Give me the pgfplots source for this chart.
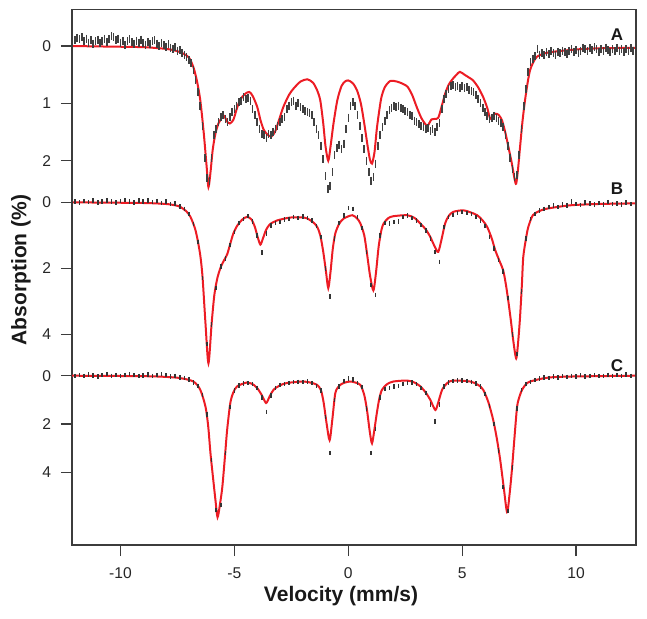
\documentclass[border=0pt]{standalone}
\usepackage{pgfplots}
\pgfplotsset{compat=1.18}
\usepackage{fontspec}
\setmainfont{Liberation Sans}
\definecolor{fitred}{RGB}{236,28,36}
\definecolor{axgray}{RGB}{60,60,60}
\pgfplotsset{
 panel/.style={
  at={(0,0)}, anchor=south west, scale only axis, width=282pt, height=267.85pt,
  xmin=-12.13, xmax=12.63, y dir=reverse,
  tick align=outside, major tick length=5.5pt,
  xtick pos=bottom, ytick pos=left,
  tick style={axgray, line width=0.7pt},
  /pgf/number format/assume math mode=true,
  tick label style={font=\fontsize{7.8}{9}\selectfont, text=black!85},
  yticklabel style={xshift=-1.5pt},
  xticklabel style={yshift=-2.5pt},
 },
 hiddenpanel/.style={panel, axis line style={draw=none}, xtick=\empty},
 datA/.style={only marks, mark=|, mark size=2pt, black!75, mark options={line width=0.8pt}},
 datBC/.style={only marks, mark=|, mark size=1.1pt, black!80, mark options={line width=0.8pt}},
 fit/.style={no marks, fitred, line width=1pt, smooth, tension=0.45},
}
\begin{document}
\begin{tikzpicture}
\useasboundingbox (-36pt,-36.5pt) rectangle (287.5pt,272.5pt);
% ---------------- Panel A ----------------
\begin{axis}[hiddenpanel, ymin=-0.64, ymax=8.70, ytick={0,1,2}]
\addplot[datA] coordinates {
(-12.0,-0.10) (-11.9,-0.14) (-11.8,-0.12) (-11.7,-0.15) (-11.6,-0.09) (-11.5,-0.13) (-11.4,-0.06) (-11.3,-0.10) (-11.2,-0.04) (-11.1,-0.08)
(-11.0,-0.11) (-10.9,-0.05) (-10.8,-0.09) (-10.7,-0.13) (-10.6,-0.07) (-10.5,-0.12) (-10.4,-0.17) (-10.3,-0.15) (-10.2,-0.10) (-10.1,-0.13)
(-10.0,-0.06) (-9.9,-0.09) (-9.8,-0.02) (-9.7,-0.08) (-9.6,-0.12) (-9.5,-0.07) (-9.4,-0.04) (-9.3,-0.09) (-9.2,-0.06) (-9.1,-0.11)
(-9.0,-0.05) (-8.9,-0.02) (-8.8,-0.07) (-8.7,-0.03) (-8.6,-0.08) (-8.5,-0.10) (-8.4,-0.04) (-8.3,0.00) (-8.2,-0.05) (-8.1,-0.01)
(-8.0,0.02) (-7.9,-0.03) (-7.8,0.03) (-7.7,0.06) (-7.6,0.02) (-7.5,0.08) (-7.4,0.07) (-7.3,0.12) (-7.2,0.15) (-7.1,0.19)
(-7.0,0.25) (-6.9,0.30) (-6.8,0.42) (-6.7,0.59) (-6.6,0.80) (-6.5,1.05) (-6.4,1.40) (-6.3,1.95) (-6.2,2.30) (-6.1,2.36)
(-6.0,1.95) (-5.9,1.55) (-5.8,1.44) (-5.7,1.33) (-5.6,1.24) (-5.5,1.21) (-5.4,1.27) (-5.3,1.33) (-5.2,1.24) (-5.1,1.15)
(-5.0,1.10) (-4.9,1.04) (-4.8,0.98) (-4.7,0.95) (-4.6,0.89) (-4.5,0.92) (-4.4,0.90) (-4.3,0.95) (-4.2,1.10) (-4.1,1.21)
(-4.0,1.33) (-3.9,1.44) (-3.8,1.53) (-3.7,1.56) (-3.6,1.60) (-3.5,1.53) (-3.4,1.56) (-3.3,1.50) (-3.2,1.44) (-3.1,1.39)
(-3.0,1.33) (-2.9,1.27) (-2.8,1.24) (-2.7,1.10) (-2.6,1.04) (-2.5,0.98) (-2.4,0.95) (-2.3,1.04) (-2.2,1.00) (-2.1,1.07)
(-2.0,1.10) (-1.9,1.13) (-1.8,1.15) (-1.7,1.16) (-1.6,1.21) (-1.5,1.33) (-1.4,1.44) (-1.3,1.56) (-1.2,1.74) (-1.1,1.97)
(-1.0,2.27) (-0.9,2.50) (-0.8,2.44) (-0.7,2.20) (-0.6,1.90) (-0.5,1.78) (-0.4,1.72) (-0.3,1.80) (-0.2,1.70) (-0.1,1.45)
(0.0,1.25) (0.1,1.05) (0.2,0.98) (0.3,1.05) (0.4,1.20) (0.5,1.40) (0.6,1.60) (0.7,1.80) (0.8,2.00) (0.9,2.20)
(1.0,2.35) (1.1,2.28) (1.2,2.05) (1.3,1.75) (1.4,1.55) (1.5,1.42) (1.6,1.30) (1.7,1.20) (1.8,1.12) (1.9,1.08)
(2.0,1.05) (2.1,1.07) (2.2,1.04) (2.3,1.08) (2.4,1.10) (2.5,1.13) (2.6,1.15) (2.7,1.20) (2.8,1.22) (2.9,1.30)
(3.0,1.33) (3.1,1.36) (3.2,1.40) (3.3,1.42) (3.4,1.45) (3.5,1.43) (3.6,1.48) (3.7,1.45) (3.8,1.50) (3.9,1.42)
(4.0,1.35) (4.1,1.10) (4.2,0.92) (4.3,0.83) (4.4,0.75) (4.5,0.70) (4.6,0.68) (4.7,0.72) (4.8,0.69) (4.9,0.73)
(5.0,0.70) (5.1,0.74) (5.2,0.72) (5.3,0.76) (5.4,0.78) (5.5,0.80) (5.6,0.85) (5.7,0.92) (5.8,1.00) (5.9,1.08)
(6.0,1.15) (6.1,1.22) (6.2,1.28) (6.3,1.25) (6.4,1.22) (6.5,1.25) (6.6,1.30) (6.7,1.35) (6.8,1.42) (6.9,1.55)
(7.0,1.75) (7.1,1.95) (7.2,2.15) (7.3,2.28) (7.4,2.25) (7.5,1.90) (7.6,1.45) (7.7,1.05) (7.8,0.75) (7.9,0.45)
(8.0,0.28) (8.1,0.22) (8.2,0.17) (8.3,0.05) (8.4,0.15) (8.5,0.13) (8.6,0.16) (8.7,0.11) (8.8,0.14) (8.9,0.09)
(9.0,0.12) (9.1,0.15) (9.2,0.10) (9.3,0.13) (9.4,0.08) (9.5,0.11) (9.6,0.14) (9.7,0.09) (9.8,0.06) (9.9,0.10)
(10.0,0.07) (10.1,0.12) (10.2,0.08) (10.3,0.03) (10.4,0.06) (10.5,0.09) (10.6,0.04) (10.7,0.07) (10.8,0.02) (10.9,0.06)
(11.0,0.10) (11.1,0.05) (11.2,0.08) (11.3,0.03) (11.4,0.07) (11.5,0.11) (11.6,0.06) (11.7,0.09) (11.8,0.04) (11.9,0.08)
(12.0,0.05) (12.1,0.10) (12.2,0.06) (12.3,0.09) (12.4,0.04) (12.5,0.08) (12.6,0.12)
};
\addplot[fit] coordinates {
(-12.13,0.00) (-10.5,0.01) (-9.0,0.02) (-8.0,0.05) (-7.6,0.08) (-7.3,0.12) (-7.0,0.20) (-6.8,0.37) (-6.65,0.60) (-6.5,0.94)
(-6.35,1.50) (-6.22,2.10) (-6.14,2.46) (-6.05,2.20) (-5.95,1.80) (-5.83,1.52) (-5.7,1.35) (-5.55,1.25) (-5.45,1.22) (-5.3,1.33)
(-5.2,1.35) (-5.05,1.29) (-4.9,1.10) (-4.75,0.94) (-4.55,0.84) (-4.35,0.80) (-4.2,0.87) (-4.0,1.06) (-3.85,1.30) (-3.7,1.47)
(-3.5,1.56) (-3.35,1.57) (-3.2,1.48) (-3.05,1.30) (-2.85,1.06) (-2.6,0.85) (-2.4,0.74) (-2.1,0.62) (-1.8,0.58) (-1.55,0.64)
(-1.37,0.77) (-1.23,0.95) (-1.1,1.35) (-1.0,1.75) (-0.88,2.00) (-0.78,1.75) (-0.65,1.35) (-0.48,0.94) (-0.3,0.70) (-0.15,0.62)
(0.0,0.60) (0.2,0.65) (0.38,0.77) (0.55,1.00) (0.7,1.35) (0.85,1.75) (0.95,1.98) (1.04,2.05) (1.15,1.85) (1.25,1.45)
(1.35,1.15) (1.45,0.90) (1.6,0.72) (1.84,0.61) (2.14,0.62) (2.4,0.66) (2.6,0.71) (2.8,0.85) (3.0,1.06) (3.2,1.25)
(3.4,1.37) (3.5,1.38) (3.65,1.28) (3.8,1.27) (3.95,1.25) (4.1,1.05) (4.26,0.82) (4.4,0.68) (4.55,0.59) (4.75,0.50)
(4.9,0.45) (5.1,0.50) (5.3,0.55) (5.48,0.60) (5.7,0.72) (5.92,0.89) (6.1,1.08) (6.23,1.27) (6.35,1.22) (6.45,1.18)
(6.6,1.20) (6.75,1.30) (6.9,1.52) (7.05,1.80) (7.18,2.05) (7.3,2.32) (7.37,2.40) (7.45,2.15) (7.54,1.76) (7.65,1.30)
(7.76,0.94) (7.88,0.62) (7.98,0.42) (8.1,0.30) (8.27,0.19) (8.6,0.13) (9.0,0.10) (10.0,0.06) (11.0,0.04) (12.63,0.03)
};
\end{axis}
% ---------------- Panel B ----------------
\begin{axis}[hiddenpanel, ymin=-5.85, ymax=10.385, ytick={0,2,4}]
\addplot[datBC] coordinates {
(-12.0,-0.02) (-11.8,0.01) (-11.6,-0.04) (-11.4,-0.01) (-11.2,-0.05) (-11.0,0.00) (-10.8,-0.03) (-10.6,-0.06) (-10.4,-0.02) (-10.2,0.01)
(-10.0,-0.04) (-9.8,-0.07) (-9.6,-0.03) (-9.4,0.00) (-9.2,-0.05) (-9.0,-0.02) (-8.8,-0.06) (-8.6,-0.01) (-8.4,-0.04) (-8.2,0.02)
(-8.0,-0.02) (-7.8,0.05) (-7.6,0.04) (-7.4,0.12) (-7.2,0.20) (-7.0,0.36) (-6.8,0.65) (-6.6,1.20) (-6.4,2.30) (-6.2,4.30)
(-6.0,3.70) (-5.8,2.60) (-5.6,1.95) (-5.4,1.70) (-5.2,1.30) (-5.0,0.90) (-4.8,0.62) (-4.6,0.50) (-4.4,0.42) (-4.2,0.58)
(-4.0,1.00) (-3.8,1.52) (-3.6,0.95) (-3.4,0.70) (-3.2,0.62) (-3.0,0.60) (-2.8,0.52) (-2.6,0.50) (-2.4,0.44) (-2.2,0.47)
(-2.0,0.43) (-1.8,0.47) (-1.6,0.55) (-1.4,0.72) (-1.2,1.05) (-1.0,2.00) (-0.8,2.85) (-0.6,1.10) (-0.4,0.62) (-0.2,0.40)
(0.0,0.18) (0.2,0.20) (0.4,0.45) (0.6,0.78) (0.8,1.50) (1.0,2.50) (1.2,2.80) (1.4,1.00) (1.6,0.62) (1.8,0.64)
(2.0,0.60) (2.2,0.58) (2.4,0.45) (2.6,0.40) (2.8,0.48) (3.0,0.55) (3.2,0.68) (3.4,0.85) (3.6,1.10) (3.8,1.50)
(4.0,1.80) (4.2,0.75) (4.4,0.45) (4.6,0.38) (4.8,0.33) (5.0,0.30) (5.2,0.32) (5.4,0.35) (5.6,0.45) (5.8,0.55)
(6.0,0.72) (6.2,1.05) (6.4,1.40) (6.6,1.75) (6.8,2.10) (7.0,2.90) (7.2,4.00) (7.4,4.60) (7.6,2.70) (7.8,1.10)
(8.0,0.50) (8.2,0.35) (8.4,0.25) (8.6,0.20) (8.8,0.15) (9.0,0.10) (9.2,0.14) (9.4,0.06) (9.6,0.09) (9.8,-0.02)
(10.0,0.05) (10.2,0.08) (10.4,0.00) (10.6,0.04) (10.8,0.07) (11.0,0.02) (11.2,0.06) (11.4,-0.01) (11.6,0.05) (11.8,0.03)
(12.0,0.07) (12.2,0.01) (12.4,0.05) (12.6,0.02)
};
\addplot[fit] coordinates {
(-12.13,0.00) (-9.0,0.02) (-8.0,0.05) (-7.6,0.09) (-7.37,0.14) (-7.1,0.28) (-6.93,0.44) (-6.75,0.75) (-6.64,1.05) (-6.5,1.60)
(-6.4,2.26) (-6.27,3.67) (-6.14,4.88) (-6.0,3.67) (-5.88,2.80) (-5.75,2.30) (-5.6,1.96) (-5.45,1.75) (-5.32,1.58) (-5.2,1.30)
(-5.05,0.95) (-4.87,0.70) (-4.65,0.52) (-4.44,0.44) (-4.25,0.52) (-4.1,0.75) (-3.98,1.05) (-3.86,1.28) (-3.75,1.10) (-3.62,0.85)
(-3.45,0.67) (-3.13,0.55) (-2.54,0.46) (-2.0,0.46) (-1.8,0.49) (-1.55,0.60) (-1.37,0.74) (-1.23,1.00) (-1.1,1.50) (-0.98,2.10)
(-0.88,2.60) (-0.78,2.10) (-0.68,1.40) (-0.57,0.94) (-0.4,0.65) (-0.2,0.49) (0.18,0.39) (0.4,0.50) (0.53,0.64) (0.7,1.00)
(0.82,1.55) (0.95,2.20) (1.1,2.67) (1.22,2.10) (1.33,1.35) (1.45,0.85) (1.55,0.64) (1.75,0.48) (1.98,0.42) (2.58,0.39)
(2.9,0.47) (3.16,0.64) (3.4,0.82) (3.6,1.05) (3.8,1.35) (3.95,1.50) (4.1,1.10) (4.25,0.64) (4.4,0.42) (4.6,0.29)
(5.04,0.24) (5.35,0.30) (5.66,0.39) (5.9,0.55) (6.1,0.75) (6.3,1.10) (6.45,1.45) (6.65,1.80) (6.8,2.06) (6.92,2.50)
(7.02,2.97) (7.14,3.60) (7.24,4.18) (7.37,4.73) (7.46,4.20) (7.54,3.47) (7.62,2.50) (7.68,1.66) (7.8,1.10) (7.9,0.75)
(8.1,0.39) (8.4,0.26) (8.73,0.19) (9.74,0.09) (11.0,0.05) (12.63,0.03)
};
\end{axis}
% ---------------- Panel C (frame, x axis) ----------------
\begin{axis}[panel, ymin=-15.17, ymax=7.01, ytick={0,2,4}, xtick={-10,-5,0,5,10},
  axis line style={axgray, line width=0.7pt}]
\addplot[datBC] coordinates {
(-12.0,0.00) (-11.8,-0.03) (-11.6,0.02) (-11.4,-0.05) (-11.2,-0.01) (-11.0,0.03) (-10.8,-0.02) (-10.6,-0.06) (-10.4,0.01) (-10.2,-0.03)
(-10.0,0.02) (-9.8,-0.04) (-9.6,-0.07) (-9.4,-0.02) (-9.2,0.02) (-9.0,-0.01) (-8.8,-0.05) (-8.6,0.01) (-8.4,-0.03) (-8.2,-0.06)
(-8.0,-0.02) (-7.8,0.03) (-7.6,0.01) (-7.4,0.08) (-7.2,0.10) (-7.0,0.15) (-6.8,0.28) (-6.6,0.42) (-6.4,0.80) (-6.2,1.60)
(-6.0,3.50) (-5.8,5.55) (-5.6,5.35) (-5.4,3.20) (-5.2,1.30) (-5.0,0.62) (-4.8,0.40) (-4.6,0.32) (-4.4,0.30) (-4.2,0.35)
(-4.0,0.50) (-3.8,0.90) (-3.6,1.50) (-3.4,0.82) (-3.2,0.50) (-3.0,0.38) (-2.8,0.35) (-2.6,0.30) (-2.4,0.27) (-2.2,0.25)
(-2.0,0.27) (-1.8,0.24) (-1.6,0.30) (-1.4,0.42) (-1.2,0.62) (-1.0,1.70) (-0.8,3.20) (-0.6,1.00) (-0.4,0.45) (-0.2,0.22)
(0.0,0.12) (0.2,0.15) (0.4,0.30) (0.6,0.48) (0.8,1.35) (1.0,3.20) (1.2,2.20) (1.4,0.90) (1.6,0.55) (1.8,0.52)
(2.0,0.45) (2.2,0.42) (2.4,0.35) (2.6,0.30) (2.8,0.28) (3.0,0.35) (3.2,0.50) (3.4,0.72) (3.6,1.20) (3.8,1.90)
(4.0,1.20) (4.2,0.45) (4.4,0.28) (4.6,0.22) (4.8,0.20) (5.0,0.20) (5.2,0.22) (5.4,0.25) (5.6,0.33) (5.8,0.45)
(6.0,0.75) (6.2,1.25) (6.4,2.00) (6.6,3.10) (6.8,4.60) (7.0,5.60) (7.2,3.80) (7.4,1.35) (7.6,0.60) (7.8,0.35)
(8.0,0.25) (8.2,0.18) (8.4,0.12) (8.6,0.08) (8.8,0.10) (9.0,0.04) (9.2,0.07) (9.4,0.02) (9.6,0.05) (9.8,0.01)
(10.0,0.04) (10.2,-0.02) (10.4,0.03) (10.6,0.01) (10.8,-0.03) (11.0,0.02) (11.2,0.00) (11.4,-0.04) (11.6,0.01) (11.8,-0.02)
(12.0,0.02) (12.2,-0.05) (12.4,0.00) (12.6,-0.02)
};
\addplot[fit] coordinates {
(-12.13,0.00) (-9.0,0.02) (-8.0,0.05) (-7.37,0.10) (-6.8,0.24) (-6.5,0.58) (-6.27,1.28) (-6.15,2.10) (-6.05,3.22) (-5.93,4.30)
(-5.83,5.17) (-5.74,5.86) (-5.63,5.30) (-5.53,4.60) (-5.42,3.40) (-5.32,2.25) (-5.18,1.13) (-5.05,0.70) (-4.88,0.44) (-4.44,0.28)
(-4.15,0.38) (-4.0,0.51) (-3.8,0.80) (-3.61,1.13) (-3.45,0.85) (-3.28,0.58) (-3.0,0.40) (-2.68,0.30) (-1.96,0.24) (-1.6,0.30)
(-1.37,0.38) (-1.2,0.60) (-1.08,1.13) (-0.95,2.00) (-0.82,2.67) (-0.7,1.80) (-0.57,0.72) (-0.4,0.42) (-0.2,0.30) (0.07,0.24)
(0.3,0.28) (0.53,0.38) (0.7,0.80) (0.82,1.42) (0.94,2.30) (1.04,2.80) (1.15,2.20) (1.25,1.56) (1.36,0.95) (1.48,0.58)
(1.7,0.35) (1.98,0.24) (2.58,0.20) (2.9,0.28) (3.16,0.44) (3.4,0.70) (3.6,1.00) (3.82,1.42) (3.95,1.10) (4.12,0.58)
(4.35,0.30) (4.6,0.20) (5.35,0.24) (5.7,0.38) (5.92,0.58) (6.15,1.10) (6.36,1.83) (6.52,2.60) (6.67,3.50) (6.82,4.60)
(6.97,5.65) (7.08,4.90) (7.18,3.92) (7.3,2.50) (7.41,1.28) (7.52,0.85) (7.63,0.58) (7.8,0.35) (7.98,0.24) (8.5,0.12)
(9.0,0.06) (10.0,0.03) (12.63,0.00)
};
\end{axis}
% ---------------- Labels ----------------
\node[font=\fontsize{10.5}{12}\selectfont\bfseries, text=black!90] at (134.5pt,-25.5pt) {Velocity (mm/s)};
\node[rotate=90, font=\fontsize{10.5}{12}\selectfont\bfseries, text=black!90] at (-25.5pt,137.5pt) {Absorption (\%)};
\node[font=\fontsize{8.5}{10}\selectfont\bfseries, text=black!90] at (272.5pt,255pt) {A};
\node[font=\fontsize{8.5}{10}\selectfont\bfseries, text=black!90] at (272.5pt,178.4pt) {B};
\node[font=\fontsize{8.5}{10}\selectfont\bfseries, text=black!90] at (272.5pt,89.5pt) {C};
\end{tikzpicture}
\end{document}
